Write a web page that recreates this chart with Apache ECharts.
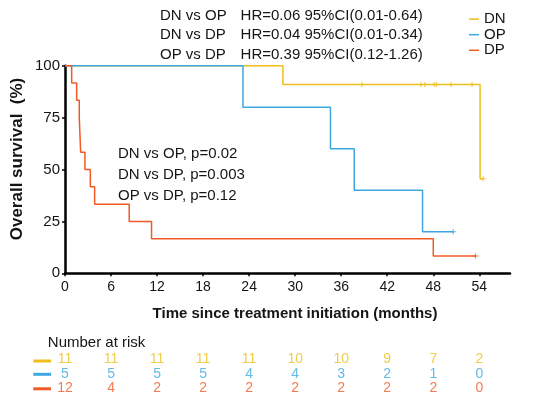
<!DOCTYPE html>
<html><head><meta charset="utf-8">
<script src="https://cdn.jsdelivr.net/npm/echarts@6/dist/echarts.min.js"></script>
<style>html,body{margin:0;padding:0;background:#fff}#c{width:535px;height:406px}</style>
</head><body><div id="c"></div>
<script>
// ---- data ----
const groups = ['DN', 'OP', 'DP'];
const dnTimes = [0, 28.4, 54.1];
const dnSurv = [100, 90.9, 45.5];
const dnCensor = [38.7, 46.4, 46.9, 48.1, 48.4, 50.3, 53.05, 54.5];
const opTimes = [0, 23.2, 34.6, 37.7, 46.6];
const opSurv = [100, 80, 60, 40, 20];
const opCensor = [50.6];
const dpTimes = [0, 0.87, 1.52, 1.86, 2.04, 2.6, 3.3, 3.86, 8.37, 11.28, 48.0];
const dpSurv = [100, 91.7, 83.3, 75, 58.3, 50, 41.7, 33.3, 25, 16.7, 8.3];
const dpCensor = [53.5];
const xTicks = [0, 6, 12, 18, 24, 30, 36, 42, 48, 54];
const yTicks = [0, 25, 50, 75, 100];
const riskDN = [11, 11, 11, 11, 11, 10, 10, 9, 7, 2];
const riskOP = [5, 5, 5, 5, 4, 4, 3, 2, 1, 0];
const riskDP = [12, 4, 2, 2, 2, 2, 2, 2, 2, 0];
const hrPairs = ['DN vs OP', 'DN vs DP', 'OP vs DP'];
const hrTexts = ['HR=0.06 95%CI(0.01-0.64)', 'HR=0.04 95%CI(0.01-0.34)', 'HR=0.39 95%CI(0.12-1.26)'];
const pTexts = ['DN vs OP, p=0.02', 'DN vs DP, p=0.003', 'OP vs DP, p=0.12'];
const xTitle = 'Time since treatment initiation (months)';
const yTitle = 'Overall survival  (%)';
const riskTitle = 'Number at risk';

// ---- styles ----
const colors = { DN: '#EFBE1B', OP: '#3DA8E0', DP: '#F15A24' };
const FONT = '"Liberation Sans", Arial, sans-serif';
const TXT = '#151515';

const km = {
  DN: { t: dnTimes, s: dnSurv, c: dnCensor, r: riskDN },
  OP: { t: opTimes, s: opSurv, c: opCensor, r: riskOP },
  DP: { t: dpTimes, s: dpSurv, c: dpCensor, r: riskDP }
};
function survAt(g, x) {
  const d = km[g]; let v = d.s[0];
  for (let i = 0; i < d.t.length; i++) if (d.t[i] <= x) v = d.s[i];
  return v;
}
const plusSym = 'path://M0,4H10V6H0ZM4,0H6V10H4Z';

const series = [];
groups.forEach(g => {
  const d = km[g];
  const pts = d.t.map((t, i) => [t, d.s[i]]);
  const lastC = Math.max.apply(null, d.c);
  pts.push([lastC, d.s[d.s.length - 1]]);
  series.push({
    name: g, type: 'line', step: 'end', data: pts, symbol: 'none',
    xAxisIndex: 0, yAxisIndex: 0,
    lineStyle: { color: colors[g], width: 1.5 }, itemStyle: { color: colors[g] },
    animation: false, z: 3
  });
});
groups.forEach(g => {
  const d = km[g];
  series.push({
    name: g + ' censored', type: 'scatter', xAxisIndex: 0, yAxisIndex: 0,
    data: d.c.map(c => [c, survAt(g, c)]),
    symbol: plusSym, symbolSize: [6, 5],
    itemStyle: { color: colors[g] }, animation: false, z: 4, silent: true
  });
});
groups.forEach(g => {
  const d = km[g];
  series.push({
    name: g + ' risk', type: 'scatter', xAxisIndex: 1, yAxisIndex: 1,
    data: xTicks.map((t, i) => [t, g, d.r[i]]),
    symbolSize: 1, itemStyle: { color: 'transparent' },
    label: { show: true, position: 'inside', formatter: p => String(p.value[2]),
      fontSize: 14, fontFamily: FONT, color: colors[g] },
    animation: false, silent: true
  });
});

const graphic = [];
hrPairs.forEach((s, i) => {
  const yc = [15.7, 34.6, 55.0][i];
  graphic.push({ type: 'text', x: 160, y: yc, style: { text: s, font: '15px ' + FONT, fill: TXT, verticalAlign: 'middle', align: 'left' } });
  graphic.push({ type: 'text', x: 240.6, y: yc, style: { text: hrTexts[i], font: '15px ' + FONT, fill: TXT, verticalAlign: 'middle', align: 'left' } });
});
pTexts.forEach((s, i) => {
  const yc = [153.9, 175.0, 195.7][i];
  graphic.push({ type: 'text', x: 118, y: yc, style: { text: s, font: '15px ' + FONT, fill: TXT, verticalAlign: 'middle', align: 'left' } });
});
graphic.push({ type: 'text', x: 295, y: 314, style: { text: xTitle, font: 'bold 15px ' + FONT, fill: TXT, align: 'center', verticalAlign: 'middle' } });
graphic.push({ type: 'text', x: 17.5, y: 159, rotation: Math.PI / 2, style: { text: yTitle, font: 'bold 17px ' + FONT, fill: TXT, align: 'center', verticalAlign: 'middle' } });
graphic.push({ type: 'text', x: 47.8, y: 343, style: { text: riskTitle, font: '15px ' + FONT, fill: TXT, align: 'left', verticalAlign: 'middle' } });
groups.forEach((g, i) => {
  const yc = [361, 374.3, 388.8][i];
  graphic.push({ type: 'rect', shape: { x: 33.3, y: yc - 1.5, width: 17.7, height: 3 }, style: { fill: colors[g] } });
});

const option = {
  backgroundColor: '#fff',
  animation: false,
  textStyle: { fontFamily: FONT },
  grid: [
    { left: 65, right: 25, top: 65.7, bottom: 132.7 },
    { left: 65, right: 25, top: 352.3, height: 43 }
  ],
  legend: {
    data: groups, orient: 'vertical', left: 469, top: 11.6, padding: 0,
    itemGap: 0.6, itemWidth: 10, itemHeight: 1.5, icon: 'rect',
    textStyle: { fontSize: 15, color: TXT, fontFamily: FONT, lineHeight: 15 },
    selectedMode: false
  },
  xAxis: [
    { gridIndex: 0, type: 'value', min: 0, max: 58,
      axisLine: { show: true, lineStyle: { color: '#000', width: 2.5 } },
      axisTick: { show: true, length: 3, customValues: xTicks, lineStyle: { color: '#000', width: 1.5 } },
      axisLabel: { customValues: xTicks, fontSize: 14, color: TXT, margin: 7, fontFamily: FONT },
      splitLine: { show: false } },
    { gridIndex: 1, type: 'value', min: 0, max: 58, show: false }
  ],
  yAxis: [
    { gridIndex: 0, type: 'value', min: 0, max: 100, interval: 25,
      axisLine: { show: true, lineStyle: { color: '#000', width: 2.5 } },
      axisTick: { show: true, length: 3, lineStyle: { color: '#000', width: 1.5 } },
      axisLabel: { fontSize: 15, color: TXT, margin: 5, fontFamily: FONT },
      splitLine: { show: false } },
    { gridIndex: 1, type: 'category', data: groups, inverse: true, show: false }
  ],
  graphic: graphic,
  series: series
};
const chart = echarts.init(document.getElementById('c'), null, { renderer: 'canvas' });
chart.setOption(option);
</script></body></html>
